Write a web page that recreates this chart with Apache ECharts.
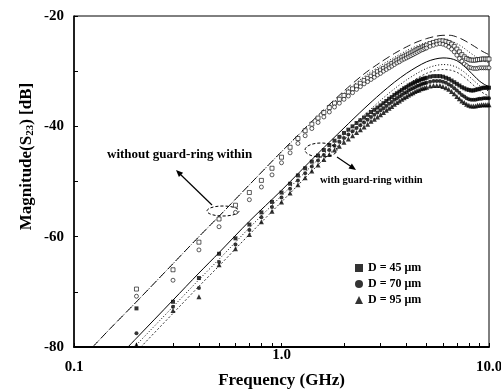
<!DOCTYPE html>
<html>
<head>
<meta charset="utf-8">
<script src="https://cdn.jsdelivr.net/npm/echarts@6/dist/echarts.min.js"></script>
<style>
  html, body { margin: 0; padding: 0; background: #fff; }
  #chart { width: 501px; height: 391px; }
</style>
</head>
<body>
<div id="chart"></div>
<script>
// measured frequencies (GHz)
const freq = [0.2, 0.3, 0.4, 0.5, 0.6, 0.7, 0.8, 0.9, 1.0, 1.1, 1.2, 1.3, 1.4, 1.5, 1.6, 1.7, 1.8, 1.9, 2.0,
  2.1, 2.2, 2.3, 2.4, 2.5, 2.6, 2.7, 2.8, 2.9, 3.0, 3.1, 3.2, 3.3, 3.4, 3.5, 3.6, 3.7, 3.8, 3.9, 4.0,
  4.1, 4.2, 4.3, 4.4, 4.5, 4.6, 4.7, 4.8, 4.9, 5.0, 5.2, 5.4, 5.6, 5.8, 6.0, 6.2, 6.4, 6.6, 6.8, 7.0,
  7.2, 7.4, 7.6, 7.8, 8.0, 8.2, 8.4, 8.6, 8.8, 9.0, 9.2, 9.4, 9.6, 9.8, 10.0];

// without guard-ring (open markers)
const noRingSq = [-69.5, -66.0, -61.0, -56.8, -54.3, -52.0, -49.8, -47.6, -45.6, -43.8, -42.2, -40.8, -39.6, -38.5, -37.5, -36.6, -35.8, -35.1, -34.4,
  -33.8, -33.2, -32.7, -32.2, -31.7, -31.3, -30.9, -30.5, -30.1, -29.8, -29.5, -29.2, -28.9, -28.6, -28.3, -28.0, -27.8, -27.5, -27.3, -27.1,
  -26.9, -26.7, -26.5, -26.3, -26.1, -25.9, -25.8, -25.6, -25.5, -25.3, -25.0, -24.8, -24.6, -24.5, -24.5, -24.6, -24.8, -25.1, -25.5, -26.0,
  -26.5, -27.0, -27.4, -27.7, -27.9, -28.0, -28.0, -28.0, -27.9, -27.9, -27.8, -27.8, -27.8, -27.8, -27.8];
const noRingCi = [-70.8, -67.9, -62.4, -58.2, -55.6, -53.3, -51.0, -48.8, -46.6, -44.8, -43.1, -41.7, -40.4, -39.3, -38.3, -37.4, -36.5, -35.8, -35.1,
  -34.5, -33.9, -33.3, -32.8, -32.3, -31.9, -31.5, -31.1, -30.7, -30.4, -30.0, -29.7, -29.4, -29.1, -28.8, -28.5, -28.3, -28.0, -27.8, -27.6,
  -27.4, -27.2, -27.0, -26.8, -26.6, -26.4, -26.2, -26.1, -25.9, -25.8, -25.5, -25.3, -25.1, -25.0, -25.1, -25.3, -25.6, -26.0, -26.5, -27.1,
  -27.7, -28.2, -28.7, -29.0, -29.3, -29.4, -29.5, -29.5, -29.5, -29.4, -29.4, -29.4, -29.4, -29.4, -29.4];

// with guard-ring (filled markers)
const d45 = [-73.0, -71.8, -67.5, -63.1, -60.3, -57.8, -55.6, -53.7, -52.0, -50.4, -48.9, -47.6, -46.4, -45.3, -44.3, -43.4, -42.6, -41.9, -41.2,
  -40.6, -40.0, -39.4, -38.9, -38.4, -37.9, -37.4, -37.0, -36.6, -36.2, -35.8, -35.4, -35.0, -34.7, -34.3, -34.0, -33.7, -33.4, -33.1, -32.9,
  -32.6, -32.4, -32.2, -32.0, -31.8, -31.7, -31.5, -31.4, -31.3, -31.2, -31.0, -30.9, -30.9, -30.9, -31.0, -31.2, -31.4, -31.7, -32.0, -32.3,
  -32.6, -32.9, -33.1, -33.3, -33.4, -33.5, -33.5, -33.4, -33.3, -33.2, -33.1, -33.0, -33.0, -33.0, -33.0];
const d70 = [-77.5, -72.7, -69.3, -64.6, -61.4, -58.8, -56.5, -54.6, -52.9, -51.3, -49.8, -48.5, -47.3, -46.2, -45.2, -44.3, -43.5, -42.8, -42.1,
  -41.5, -40.9, -40.3, -39.8, -39.3, -38.8, -38.3, -37.9, -37.5, -37.1, -36.7, -36.3, -35.9, -35.6, -35.2, -34.9, -34.6, -34.3, -34.0, -33.8,
  -33.5, -33.3, -33.1, -32.9, -32.7, -32.6, -32.4, -32.3, -32.2, -32.1, -31.9, -31.8, -31.8, -31.8, -31.9, -32.1, -32.4, -32.7, -33.1, -33.5,
  -33.9, -34.3, -34.6, -34.9, -35.1, -35.2, -35.2, -35.2, -35.1, -35.0, -35.0, -34.9, -34.9, -34.9, -34.9];
const d95 = [-79.6, -73.4, -70.9, -65.1, -62.2, -59.6, -57.3, -55.4, -53.7, -52.1, -50.6, -49.3, -48.1, -47.0, -46.0, -45.1, -44.3, -43.6, -42.9,
  -42.3, -41.7, -41.1, -40.6, -40.1, -39.6, -39.1, -38.7, -38.3, -37.9, -37.5, -37.1, -36.7, -36.4, -36.0, -35.7, -35.4, -35.1, -34.8, -34.6,
  -34.3, -34.1, -33.9, -33.7, -33.5, -33.4, -33.2, -33.1, -33.0, -32.9, -32.7, -32.6, -32.6, -32.6, -32.8, -33.0, -33.3, -33.7, -34.1, -34.6,
  -35.0, -35.4, -35.7, -36.0, -36.2, -36.3, -36.3, -36.3, -36.2, -36.2, -36.1, -36.1, -36.1, -36.1, -36.1];

// simulated curves
const simOutF = [0.123, 0.15, 0.2, 0.3, 0.4, 0.5, 0.7, 1.0, 1.5, 2.0, 2.5, 3.0, 3.5, 4.0, 4.5, 5.0, 5.5, 6.0, 6.5, 7.0, 7.5, 8.0, 8.5, 9.0, 9.5, 10.0];
const simOut1 = [-80, -76.6, -71.8, -64.9, -60.0, -56.3, -50.6, -44.6, -38.0, -33.6, -30.5, -28.4, -26.8, -25.6, -24.7, -24.1, -23.7, -23.5, -23.5, -23.8, -24.3, -24.9, -25.5, -26.1, -26.6, -27.0];
const simOut2 = [-80, -76.6, -71.8, -64.9, -60.0, -56.3, -50.6, -44.6, -38.2, -34.0, -31.0, -29.0, -27.5, -26.3, -25.4, -24.8, -24.4, -24.3, -24.5, -25.0, -25.7, -26.5, -27.2, -27.8, -28.2, -28.5];
const simInF = [0.182, 0.2, 0.3, 0.4, 0.5, 0.7, 1.0, 1.5, 2.0, 2.5, 3.0, 3.5, 4.0, 4.5, 5.0, 5.5, 6.0, 6.5, 7.0, 7.5, 8.0, 8.5, 9.0, 9.5, 10.0];
const simIn45 = [-80, -78.4, -71.5, -66.6, -62.9, -57.2, -51.6, -44.9, -40.3, -36.8, -34.1, -32.0, -30.4, -29.2, -28.3, -27.8, -27.6, -27.7, -28.1, -28.9, -29.9, -30.9, -31.8, -32.4, -32.8];
const simIn70F = [0.195, 0.2, 0.3, 0.4, 0.5, 0.7, 1.0, 1.5, 2.0, 2.5, 3.0, 3.5, 4.0, 4.5, 5.0, 5.5, 6.0, 6.5, 7.0, 7.5, 8.0, 8.5, 9.0, 9.5, 10.0];
const simIn70 = [-80, -79.6, -72.7, -67.8, -64.1, -58.4, -52.6, -46.0, -41.5, -38.0, -35.3, -33.2, -31.6, -30.4, -29.5, -29.0, -28.8, -28.9, -29.3, -30.0, -30.9, -31.8, -32.6, -33.2, -33.6];
const simIn95F = [0.21, 0.3, 0.4, 0.5, 0.7, 1.0, 1.5, 2.0, 2.5, 3.0, 3.5, 4.0, 4.5, 5.0, 5.5, 6.0, 6.5, 7.0, 7.5, 8.0, 8.5, 9.0, 9.5, 10.0];
const simIn95 = [-80, -73.9, -69.0, -65.3, -59.6, -53.7, -47.0, -42.5, -39.0, -36.3, -34.2, -32.6, -31.3, -30.4, -29.9, -29.7, -29.8, -30.2, -30.9, -31.8, -32.7, -33.5, -34.1, -34.5];

// log ticks along the frequency axis
const xTicks = [0.1, 0.2, 0.3, 0.4, 0.5, 0.6, 0.7, 0.8, 0.9, 1, 2, 3, 4, 5, 6, 7, 8, 9, 10];
const xLabels = [0.1, 1, 10];
const legendNames = ['D = 45 μm', 'D = 70 μm', 'D = 95 μm'];

const FONT = '"Liberation Serif", "Times New Roman", serif';
const chart = echarts.init(document.getElementById('chart'));

function pts(xs, ys) {
  return xs.map((x, i) => [x, ys[i]]);
}

function lineSeries(xs, ys, type, width) {
  return {
    type: 'line',
    data: pts(xs, ys),
    showSymbol: false,
    smooth: 0.3,
    silent: true,
    lineStyle: { color: '#000', width: width, type: type },
    z: 2
  };
}

function markSeries(name, ys, symbol, size, open) {
  return {
    name: name,
    type: 'scatter',
    data: pts(freq, ys),
    symbol: symbol,
    symbolSize: size,
    itemStyle: open
      ? { color: '#fff', borderColor: '#000', borderWidth: 0.8 }
      : { color: '#000', borderColor: '#000', borderWidth: 0 },
    z: 3
  };
}

const option = {
  animation: false,
  backgroundColor: '#fff',
  grid: {
    left: 74, right: 12, top: 16, bottom: 44,
    outerBoundsMode: 'none',
    containLabel: false,
    show: true, borderColor: '#000', borderWidth: 1
  },
  xAxis: {
    type: 'log',
    logBase: 10,
    min: 0.1,
    max: 10,
    name: 'Frequency (GHz)',
    nameLocation: 'middle',
    nameGap: 25,
    nameMoveOverlap: false,
    nameTextStyle: { fontFamily: FONT, fontWeight: 'bold', fontSize: 17, color: '#000' },
    axisLine: { lineStyle: { color: '#000', width: 2 } },
    axisTick: { inside: true, length: 4, customValues: xTicks, lineStyle: { color: '#000' } },
    splitLine: { show: false },
    axisLabel: {
      margin: 2,
      customValues: xLabels,
      fontFamily: FONT, fontWeight: 'bold', fontSize: 15, color: '#000', lineHeight: 12,
      formatter: function (v) {
        if (Math.abs(v - 1) < 1e-6) return '1.0';
        return '\n' + (v < 1 ? '0.1' : '10.0');
      }
    }
  },
  yAxis: {
    type: 'value',
    min: -80,
    max: -20,
    interval: 10,
    name: 'Magnitude(S{s|23}) [dB]',
    nameLocation: 'middle',
    nameGap: 38,
    nameMoveOverlap: false,
    nameTextStyle: {
      fontFamily: FONT, fontWeight: 'bold', fontSize: 17, color: '#000',
      padding: [0, 0, 0, 50],
      rich: { s: { fontFamily: FONT, fontWeight: 'bold', fontSize: 11, padding: [7, 0, 0, 0] } }
    },
    axisLine: { show: true, lineStyle: { color: '#000', width: 1.5 } },
    axisTick: { inside: true, length: 4, lineStyle: { color: '#000' } },
    splitLine: { show: false },
    axisLabel: {
      margin: 10,
      fontFamily: FONT, fontWeight: 'bold', fontSize: 15, color: '#000',
      formatter: function (v) { return v % 20 === 0 ? String(v) : ''; }
    }
  },
  legend: {
    data: legendNames,
    orient: 'vertical',
    left: 350,
    top: 257,
    itemWidth: 8,
    itemHeight: 8,
    itemGap: 4,
    textStyle: { fontFamily: FONT, fontWeight: 'bold', fontSize: 12, color: '#000' }
  },
  series: [
    lineSeries(simOutF, simOut1, [8, 4], 0.9),
    lineSeries(simOutF, simOut2, [1, 2], 0.9),
    lineSeries(simInF, simIn45, 'solid', 1),
    lineSeries(simIn70F, simIn70, [1, 2], 1),
    lineSeries(simIn95F, simIn95, [2, 2], 0.8),
    markSeries('open sq', noRingSq, 'rect', 4, true),
    markSeries('open ci', noRingCi, 'circle', 4, true),
    markSeries(legendNames[0], d45, 'rect', 4, false),
    markSeries(legendNames[1], d70, 'circle', 4, false),
    markSeries(legendNames[2], d95, 'triangle', 5, false)
  ],
  graphic: [
    { type: 'text', left: 107, top: 148, silent: true,
      style: { text: 'without guard-ring within', font: 'bold 13px ' + FONT, fill: '#000' } },
    { type: 'text', left: 320, top: 175, silent: true,
      style: { text: 'with guard-ring within', font: 'bold 10.5px ' + FONT, fill: '#000' } },
    { type: 'ellipse', silent: true, shape: { cx: 223, cy: 211, rx: 16, ry: 5 },
      style: { fill: 'none', stroke: '#000', lineWidth: 1, lineDash: [3, 2] } },
    { type: 'ellipse', silent: true, shape: { cx: 321, cy: 150, rx: 16, ry: 7 },
      style: { fill: 'none', stroke: '#000', lineWidth: 1, lineDash: [3, 2] } },
    { type: 'line', silent: true, shape: { x1: 212, y1: 205, x2: 180, y2: 174 },
      style: { stroke: '#000', lineWidth: 1.2 } },
    { type: 'polygon', silent: true, shape: { points: [[176, 170], [183.1, 172.7], [178.9, 177.0]] },
      style: { fill: '#000' } },
    { type: 'line', silent: true, shape: { x1: 337, y1: 157, x2: 351, y2: 166.5 },
      style: { stroke: '#000', lineWidth: 1.2 } },
    { type: 'polygon', silent: true, shape: { points: [[356, 170], [348.5, 168.5], [351.9, 163.5]] },
      style: { fill: '#000' } }
  ]
};

chart.setOption(option);
</script>
</body>
</html>
